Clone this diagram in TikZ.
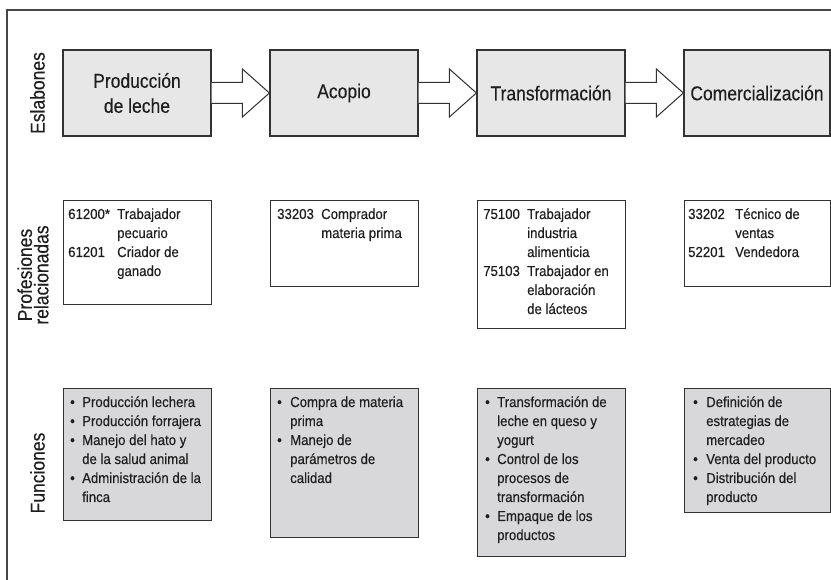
\documentclass[tikz,border=0pt]{standalone}
\usepackage{fontspec}
\setmainfont{Liberation Sans}[FakeStretch=0.91,FakeBold=0.3]
\newfontfamily\hdfont{Liberation Sans}[FakeStretch=0.875,FakeBold=0.3]
\usetikzlibrary{calc}
\definecolor{linec}{RGB}{50,50,50}
\definecolor{hdfill}{RGB}{231,231,232}
\definecolor{fnfill}{RGB}{216,216,218}
\definecolor{txt}{RGB}{30,30,30}
\definecolor{framec}{RGB}{70,70,70}
\begin{document}
\begin{tikzpicture}[x=1pt,y=-1pt,
 hdbox/.style={draw=linec, fill=hdfill, line width=1.2pt, minimum height=86pt, inner sep=0pt, font=\hdfont\fontsize{20}{25}\selectfont, text=txt, align=center, anchor=center},
 prbox/.style={draw=linec, fill=white, line width=1.2pt, inner sep=0pt, anchor=north west},
 fnbox/.style={draw=linec, fill=fnfill, line width=1.2pt, inner sep=0pt, anchor=north west},
 bodytxt/.style={inner sep=0pt, anchor=base west, font=\fontsize{14.5}{19}\selectfont, text=txt},
 rowlab/.style={rotate=90, inner sep=0pt, font=\hdfont\fontsize{20}{16.5}\selectfont, text=txt, align=center},
 blockarr/.style={draw=linec, fill=white, line width=1pt, line join=miter}]
\useasboundingbox (0,0) rectangle (831,580);
\clip (0,0) rectangle (831,580);
% outer frame
\draw[framec, line width=1.5pt] (7,600) -- (7,10) -- (850,10);
% row labels
\node[rowlab] (l1) at (37.5,93) {Eslabones};
\node[rowlab] (l2) at (33,275) {Profesiones\\relacionadas};
\node[rowlab] (l3) at (37.5,473) {Funciones};
% header boxes
\node[hdbox, minimum width=148pt] (h1) at (137,93) {Producción\\de leche};
\node[hdbox, minimum width=148pt] (h2) at (344,93) {Acopio};
\node[hdbox, minimum width=148pt] (h3) at (551,93) {Transformación};
\node[hdbox, minimum width=146pt] (h4) at (757,93) {Comercialización};
% block arrows
\foreach \a/\b in {h1/h2,h2/h3,h3/h4}{
\draw[blockarr] ($(\a.east)+(0,-10.5)$) -- ($(\b.west)+(-27,-10.5)$) -- ($(\b.west)+(-27,-24)$) -- (\b.west) -- ($(\b.west)+(-27,24)$) -- ($(\b.west)+(-27,10.5)$) -- ($(\a.east)+(0,10.5)$);
}
% profession boxes
\node[prbox, minimum width=148pt, minimum height=104pt] (p1) at (63,200) {};
\node[prbox, minimum width=148pt, minimum height=86pt] (p2) at (270,200) {};
\node[prbox, minimum width=148pt, minimum height=128pt] (p3) at (477,200) {};
\node[prbox, minimum width=146pt, minimum height=86pt] (p4) at (684,200) {};
\node[bodytxt] (p1t) at ($(p1.north west)+(5,19)$) {\begin{tabular}[t]{@{}p{49pt}@{}l@{}}61200* & Trabajador\\ & pecuario\\ 61201 & Criador de\\ & ganado\end{tabular}};
\node[bodytxt] (p2t) at ($(p2.north west)+(7,19)$) {\begin{tabular}[t]{@{}p{44pt}@{}l@{}}33203 & Comprador\\ & materia prima\end{tabular}};
\node[bodytxt] (p3t) at ($(p3.north west)+(6,19)$) {\begin{tabular}[t]{@{}p{44pt}@{}l@{}}75100 & Trabajador\\ & industria\\ & alimenticia\\ 75103 & Trabajador en\\ & elaboración\\ & de lácteos\end{tabular}};
\node[bodytxt] (p4t) at ($(p4.north west)+(4,19)$) {\begin{tabular}[t]{@{}p{47pt}@{}l@{}}33202 & Técnico de\\ & ventas\\ 52201 & Vendedora\end{tabular}};
% function boxes
\node[fnbox, minimum width=148pt, minimum height=132pt] (f1) at (63,388) {};
\node[fnbox, minimum width=148pt, minimum height=149pt] (f2) at (270,388) {};
\node[fnbox, minimum width=148pt, minimum height=168pt] (f3) at (477,388) {};
\node[fnbox, minimum width=146pt, minimum height=124pt] (f4) at (684,388) {};
\node[bodytxt] (f1t) at ($(f1.north west)+(7,19)$) {\begin{tabular}[t]{@{}p{12pt}@{}l@{}}• & Producción lechera\\ • & Producción forrajera\\ • & Manejo del hato y\\ & de la salud animal\\ • & Administración de la\\ & finca\end{tabular}};
\node[bodytxt] (f2t) at ($(f2.north west)+(7,19)$) {\begin{tabular}[t]{@{}p{13pt}@{}l@{}}• & Compra de materia\\ & prima\\ • & Manejo de\\ & parámetros de\\ & calidad\end{tabular}};
\node[bodytxt] (f3t) at ($(f3.north west)+(8,19)$) {\begin{tabular}[t]{@{}p{12pt}@{}l@{}}• & Transformación de\\ & leche en queso y\\ & yogurt\\ • & Control de los\\ & procesos de\\ & transformación\\ • & Empaque de los\\ & productos\end{tabular}};
\node[bodytxt] (f4t) at ($(f4.north west)+(9,19)$) {\begin{tabular}[t]{@{}p{13pt}@{}l@{}}• & Definición de\\ & estrategias de\\ & mercadeo\\ • & Venta del producto\\ • & Distribución del\\ & producto\end{tabular}};
\end{tikzpicture}
\end{document}
